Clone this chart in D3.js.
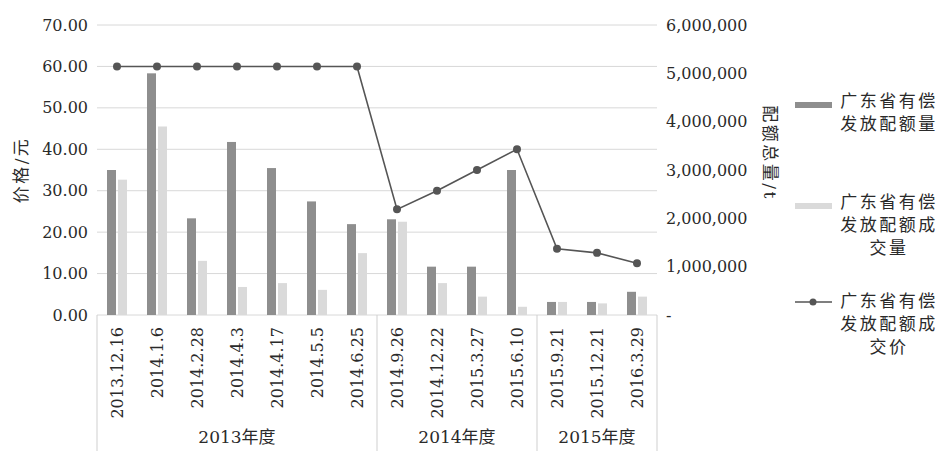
<!DOCTYPE html>
<html>
<head>
<meta charset="utf-8">
<script src="https://cdn.jsdelivr.net/npm/d3@7"></script>
<style>
  body { margin: 0; background: #fff; }
  svg { display: block; }
  text { font-family: "DejaVu Serif", "Noto Sans CJK SC", serif; fill: #2a2a2a; }
  .cjk { font-family: "DejaVu Serif", "Noto Sans CJK SC", serif; letter-spacing: 2.5px; }
</style>
</head>
<body>
<div id="chart"></div>
<script>
// data
const dates = ['2013.12.16', '2014.1.6', '2014.2.28', '2014.4.3', '2014.4.17', '2014.5.5', '2014.6.25',
    '2014.9.26', '2014.12.22', '2015.3.27', '2015.6.10',
    '2015.9.21', '2015.12.21', '2016.3.29'];
const years = [
    { name: '2013年度', from: 0, to: 7 },
    { name: '2014年度', from: 7, to: 11 },
    { name: '2015年度', from: 11, to: 14 }
];
const quota = [3000000, 5000000, 2000000, 3580000, 3040000, 2350000, 1880000,
    1980000, 1000000, 1000000, 3000000, 270000, 270000, 480000];
const traded = [2800000, 3900000, 1120000, 580000, 660000, 520000, 1280000,
    1930000, 660000, 380000, 170000, 270000, 240000, 380000];
const price = [60, 60, 60, 60, 60, 60, 60, 25.5, 30, 35, 40, 16, 15, 12.5];
const priceTicks = [0, 10, 20, 30, 40, 50, 60, 70];
const amountTicks = [0, 1000000, 2000000, 3000000, 4000000, 5000000, 6000000];

const W = 943, H = 451;
const pLeft = 97, pRight = 657, pTop = 25, pBottom = 315;
const darkColor = '#8e8e8e', lightColor = '#dadada', lineColor = '#555';

const svg = d3.select('#chart').append('svg')
    .attr('width', W)
    .attr('height', H);

const x = d3.scaleBand().domain(dates).range([pLeft, pRight]).padding(0);
const yL = d3.scaleLinear().domain([0, 70]).range([pBottom, pTop]);
const yR = d3.scaleLinear().domain([0, 6000000]).range([pBottom, pTop]);
const cx = d => x(d) + x.bandwidth() / 2;

// gridlines
svg.append('g')
    .selectAll('line')
    .data(priceTicks)
    .enter().append('line')
    .attr('x1', pLeft).attr('x2', pRight)
    .attr('y1', d => yL(d)).attr('y2', d => yL(d))
    .style('stroke', '#d8d8d8')
    .style('stroke-width', 1);

// left axis
const axL = svg.append('g')
    .attr('transform', `translate(${pLeft - 6},0)`)
    .call(d3.axisLeft(yL).tickValues(priceTicks).tickFormat(d3.format('.2f')).tickSize(0));
axL.select('.domain').remove();
axL.selectAll('text').style('font-size', '16px').style('font-family', '"DejaVu Serif", serif').style('fill', '#2a2a2a');

// right axis
const axR = svg.append('g')
    .attr('transform', `translate(${pRight + 6},0)`)
    .call(d3.axisRight(yR).tickValues(amountTicks)
        .tickFormat(d => d === 0 ? '-' : d3.format(',')(d)).tickSize(0));
axR.select('.domain').remove();
axR.selectAll('text').style('font-size', '16px').style('font-family', '"DejaVu Serif", serif').style('fill', '#2a2a2a');

// axis titles
svg.append('text')
    .attr('class', 'cjk')
    .attr('transform', `translate(27,170) rotate(-90)`)
    .attr('text-anchor', 'middle')
    .style('font-size', '17px')
    .text('价格/元');

svg.append('text')
    .attr('class', 'cjk')
    .attr('transform', `translate(764,153) rotate(90)`)
    .attr('text-anchor', 'middle')
    .style('font-size', '17px')
    .text('配额总量/t');

// bars
svg.append('g')
    .selectAll('rect')
    .data(dates)
    .enter().append('rect')
    .attr('x', d => cx(d) - 10)
    .attr('width', 9)
    .attr('y', (d, i) => yR(quota[i]))
    .attr('height', (d, i) => yR(0) - yR(quota[i]))
    .style('fill', darkColor);

svg.append('g')
    .selectAll('rect')
    .data(dates)
    .enter().append('rect')
    .attr('x', d => cx(d) + 1)
    .attr('width', 9)
    .attr('y', (d, i) => yR(traded[i]))
    .attr('height', (d, i) => yR(0) - yR(traded[i]))
    .style('fill', lightColor);

// price line
const line = d3.line()
    .x((d, i) => cx(dates[i]))
    .y(d => yL(d));

svg.append('path')
    .datum(price)
    .attr('d', line)
    .style('fill', 'none')
    .style('stroke', lineColor)
    .style('stroke-width', 1.6);

svg.append('g')
    .selectAll('circle')
    .data(price)
    .enter().append('circle')
    .attr('cx', (d, i) => cx(dates[i]))
    .attr('cy', d => yL(d))
    .attr('r', 4)
    .style('fill', lineColor);

// category labels (rotated)
svg.append('g')
    .selectAll('text')
    .data(dates)
    .enter().append('text')
    .attr('transform', d => `translate(${cx(d) + 6},327) rotate(-90)`)
    .attr('text-anchor', 'end')
    .style('font-size', '16px')
    .text(d => d);

// group separators
const seps = [0, 7, 11, 14];
svg.append('g')
    .selectAll('line')
    .data(seps)
    .enter().append('line')
    .attr('x1', d => pLeft + d * x.bandwidth())
    .attr('x2', d => pLeft + d * x.bandwidth())
    .attr('y1', pBottom)
    .attr('y2', H)
    .style('stroke', '#cfcfcf')
    .style('stroke-width', 1);

svg.append('g')
    .selectAll('text')
    .data(years)
    .enter().append('text')
    .attr('class', 'cjk')
    .attr('x', d => pLeft + (d.from + d.to) / 2 * x.bandwidth())
    .attr('y', 443)
    .attr('text-anchor', 'middle')
    .style('font-size', '17px')
    .style('letter-spacing', '0px')
    .text(d => d.name);

// legend
const legend = [
    { lines: ['广东省有偿', '发放配额量'], y: 101, type: 'dark' },
    { lines: ['广东省有偿', '发放配额成', '交量'], y: 202, type: 'light' },
    { lines: ['广东省有偿', '发放配额成', '交价'], y: 301, type: 'line' }
];

const lg = svg.append('g');
legend.forEach(item => {
    if (item.type === 'line') {
        lg.append('line')
            .attr('x1', 795).attr('x2', 832)
            .attr('y1', item.y + 1).attr('y2', item.y + 1)
            .style('stroke', lineColor)
            .style('stroke-width', 1.6);
        lg.append('circle')
            .attr('cx', 813).attr('cy', item.y + 1).attr('r', 3.5)
            .style('fill', lineColor);
    } else {
        lg.append('rect')
            .attr('x', 795).attr('y', item.y + 1)
            .attr('width', 37).attr('height', 6)
            .style('fill', item.type === 'dark' ? darkColor : lightColor);
    }
    item.lines.forEach((t, k) => {
        lg.append('text')
            .attr('class', 'cjk')
            .attr('x', 889)
            .attr('y', item.y + k * 23 + 6)
            .attr('text-anchor', 'middle')
            .style('font-size', '17px')
            .text(t);
    });
});
</script>
</body>
</html>
